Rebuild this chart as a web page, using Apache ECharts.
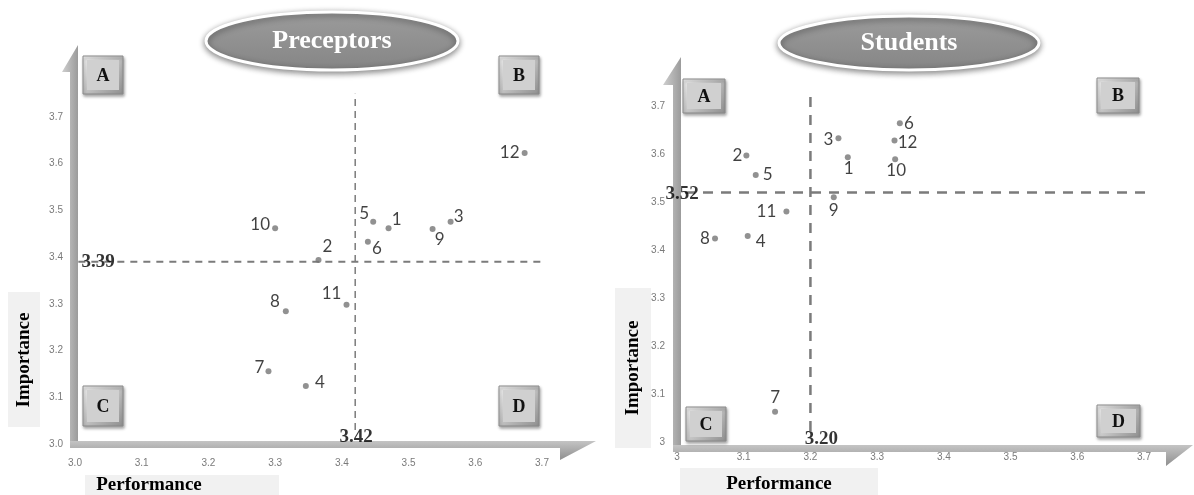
<!DOCTYPE html>
<html><head><meta charset="utf-8">
<script src="https://cdn.jsdelivr.net/npm/echarts@6/dist/echarts.min.js"></script>
<style>html,body{margin:0;padding:0;background:#fff}#c{width:1194px;height:495px}</style>
</head><body><div id="c"></div>
<script>
// ---------- data ----------
const itemIds = ['1','2','3','4','5','6','7','8','9','10','11','12'];
const preceptorsPerformance = [3.470,3.365,3.563,3.346,3.447,3.439,3.290,3.316,3.536,3.300,3.407,3.674];
const preceptorsImportance  = [3.462,3.394,3.476,3.124,3.476,3.433,3.156,3.284,3.460,3.462,3.298,3.623];
const studentsPerformance   = [3.256,3.104,3.242,3.106,3.118,3.334,3.147,3.057,3.235,3.327,3.164,3.326];
const studentsImportance    = [3.593,3.597,3.633,3.429,3.556,3.664,3.063,3.424,3.510,3.589,3.480,3.628];
const preceptorsMeans = [3.42, 3.39];   // [performance, importance]
const studentsMeans   = [3.20, 3.52];
const preceptorsTickLabels = ['3.0','3.1','3.2','3.3','3.4','3.5','3.6','3.7'];
const studentsTickLabels   = ['3','3.1','3.2','3.3','3.4','3.5','3.6','3.7'];
const panelTitles = ['Preceptors','Students'];
const quadrantNames = ['A','B','C','D'];
const axisNames = ['Performance','Importance'];

// ---------- styles / layout ----------
const leftLabelOffsets = [[8,-9],[9,-13],[8,-5],[14,-4],[-9,-8],[9,7],[-9,-4],[-11,-10],[7,10],[-15,-4],[-15,-11],[-15,0]];
const rightLabelOffsets = [[1,11],[-9,0],[-10,1],[13,5],[12,-1],[9,0],[0,-14],[-10,0],[0,13],[1,11],[-20,0],[13,2]];
const serif = 'Liberation Serif, Times New Roman, serif';
const tickFont = 'Liberation Sans Narrow, Liberation Sans, Arial, sans-serif';
const numFont = 'Lato, Open Sans, sans-serif';

function pts(xs, ys, offs) {
  return xs.map((x, i) => ({
    value: [x, ys[i]],
    name: itemIds[i],
    label: { offset: offs[i] }
  }));
}
function tickFmt(labels) {
  return v => { const i = Math.round((v - 3) * 10); return labels[i] !== undefined && Math.abs(v - (3 + i / 10)) < 1e-6 ? labels[i] : ''; };
}
function axisCfg(idx, labels, margin) {
  return {
    type: 'value', gridIndex: idx, min: 3.0, max: 3.7, interval: 0.1,
    axisLine: { show: false }, axisTick: { show: false }, splitLine: { show: false },
    axisLabel: { formatter: tickFmt(labels), color: '#7a7a7a', fontSize: 10, fontFamily: tickFont, margin: margin }
  };
}
const dashStyle = (w, d) => ({ color: '#7b7b7b', width: w, type: d });

function meanLines(idx, means, vExt, hExt, w, d) {
  return [
    { type: 'line', xAxisIndex: idx, yAxisIndex: idx, clip: false, symbol: 'none', silent: true,
      lineStyle: dashStyle(w[0], d[0]), data: [[means[0], vExt[0]], [means[0], vExt[1]]], z: 1 },
    { type: 'line', xAxisIndex: idx, yAxisIndex: idx, clip: false, symbol: 'none', silent: true,
      lineStyle: dashStyle(w[1], d[1]), data: [[hExt[0], means[1]], [hExt[1], means[1]]], z: 1 }
  ];
}
function meanLabels(idx, means, offV, offH) {
  return {
    type: 'scatter', xAxisIndex: idx, yAxisIndex: idx, clip: false, symbolSize: 0, silent: true, z: 5,
    label: { show: true, position: 'inside', fontFamily: serif, fontWeight: 'bold', fontSize: 19, color: '#000',
      textBorderWidth: 0, textBorderColor: 'transparent',
      formatter: p => p.data.txt },
    data: [
      { value: [3.0, means[1]], txt: means[1].toFixed(2), label: { offset: offH } },
      { value: [means[0], 3.0], txt: means[0].toFixed(2), label: { offset: offV } }
    ]
  };
}
function pointSeries(idx, xs, ys, offs) {
  return {
    type: 'scatter', xAxisIndex: idx, yAxisIndex: idx, symbolSize: 6, z: 4,
    itemStyle: { color: '#767676' },
    label: { show: true, position: 'inside', formatter: '{b}', fontFamily: numFont, fontSize: 17, color: '#111',
      textBorderWidth: 0, textBorderColor: 'transparent' },
    data: pts(xs, ys, offs)
  };
}

// ---------- decorative graphics ----------
function bar(points, grad) {
  return { type: 'polygon', shape: { points: points }, silent: true, z: 0,
    style: { fill: grad } };
}
const vGrad = new echarts.graphic.LinearGradient(0, 0, 1, 0, [{ offset: 0, color: '#cfcfcf' }, { offset: 1, color: '#9b9b9b' }]);
const hGrad = new echarts.graphic.LinearGradient(0, 0, 0, 1, [{ offset: 0, color: '#c4c4c4' }, { offset: 1, color: '#8f8f8f' }]);
function button(x, y, w, h, letter) {
  return { type: 'group', x: x, y: y, silent: true, children: [
    { type: 'rect', shape: { x: 0, y: 0, width: w, height: h },
      style: { fill: new echarts.graphic.LinearGradient(0, 0, 1, 1, [{ offset: 0, color: '#f2f2f2' }, { offset: 1, color: '#8e8e8e' }]),
        stroke: '#8a8a8a', lineWidth: 1, shadowBlur: 3, shadowOffsetX: 1, shadowOffsetY: 2, shadowColor: 'rgba(0,0,0,0.35)' } },
    { type: 'rect', shape: { x: 4, y: 4, width: w - 8, height: h - 8 }, style: { fill: '#d0d0d0' } },
    { type: 'text', x: w / 2, y: h / 2 + 1, style: { text: letter, fill: '#111', font: 'bold 18px ' + serif, align: 'center', verticalAlign: 'middle' } }
  ] };
}
function titleEllipse(cx, cy, rx, ry, text) {
  return { type: 'group', silent: true, children: [
    { type: 'ellipse', shape: { cx: cx, cy: cy, rx: rx, ry: ry },
      style: { fill: new echarts.graphic.LinearGradient(0, 0, 0, 1, [{ offset: 0, color: '#9c9c9c' }, { offset: 1, color: '#858585' }]),
        stroke: '#ffffff', lineWidth: 3, shadowBlur: 6, shadowOffsetY: 2, shadowColor: 'rgba(0,0,0,0.45)' } },
    { type: 'text', x: cx, y: cy, style: { text: text, fill: '#ffffff', font: 'bold 26px ' + serif, align: 'center', verticalAlign: 'middle' } }
  ] };
}
function nameBox(x, y, w, h, text, tx, ty, rot) {
  return { type: 'group', silent: true, children: [
    { type: 'rect', shape: { x: x, y: y, width: w, height: h }, style: { fill: '#f1f1f1' } },
    { type: 'text', x: tx, y: ty, rotation: rot, style: { text: text, fill: '#000', font: 'bold 19px ' + serif, align: 'center', verticalAlign: 'middle' } }
  ] };
}

const graphics = [
  bar([[70,448],[70,72],[62,72],[78,45],[78,448]], vGrad),
  bar([[70,441],[596,441],[560,460],[560,448],[70,448]], hGrad),
  bar([[673,452],[673,85],[663,85],[681,57],[681,452]], vGrad),
  bar([[673,445],[1193,445],[1166,466],[1166,452],[673,452]], hGrad),
  titleEllipse(332, 41, 126, 29, panelTitles[0]),
  titleEllipse(909, 43, 130, 27, panelTitles[1]),
  button(83, 56, 40, 38, quadrantNames[0]),
  button(499, 56, 40, 38, quadrantNames[1]),
  button(83, 386, 40, 40, quadrantNames[2]),
  button(499, 386, 40, 40, quadrantNames[3]),
  button(683, 79, 42, 34, quadrantNames[0]),
  button(1097, 78, 42, 35, quadrantNames[1]),
  button(686, 407, 40, 34, quadrantNames[2]),
  button(1097, 405, 43, 32, quadrantNames[3]),
  nameBox(8, 292, 32, 135, axisNames[1], 24, 360, Math.PI / 2),
  nameBox(85, 475, 194, 20, axisNames[0], 149, 485, 0),
  nameBox(615, 288, 36, 160, axisNames[1], 633, 368, Math.PI / 2),
  nameBox(680, 468, 198, 27, axisNames[0], 779, 484, 0)
];

const option = {
  backgroundColor: '#ffffff',
  animation: false,
  grid: [
    { left: 75, top: 117, width: 467, height: 327 },
    { left: 677, top: 106, width: 467, height: 336 }
  ],
  xAxis: [ axisCfg(0, preceptorsTickLabels, 14), axisCfg(1, studentsTickLabels, 10) ],
  yAxis: [ axisCfg(0, preceptorsTickLabels, 12), axisCfg(1, studentsTickLabels, 12) ],
  graphic: graphics,
  series: [
    ...meanLines(0, preceptorsMeans, [3.03, 3.75], [3.005, 3.705], [1.5, 2], [[7, 5], [7, 6]]),
    ...meanLines(1, studentsMeans, [3.023, 3.733], [3.012, 3.706], [2.5, 2.5], [[10, 8], [10, 8]]),
    pointSeries(0, preceptorsPerformance, preceptorsImportance, leftLabelOffsets),
    pointSeries(1, studentsPerformance, studentsImportance, rightLabelOffsets),
    meanLabels(0, preceptorsMeans, [1, -7], [23, 0]),
    meanLabels(1, studentsMeans, [11, -3], [5, 2])
  ]
};
const chart = echarts.init(document.getElementById('c'), null, { renderer: 'canvas' });
chart.setOption(option);
</script></body></html>
